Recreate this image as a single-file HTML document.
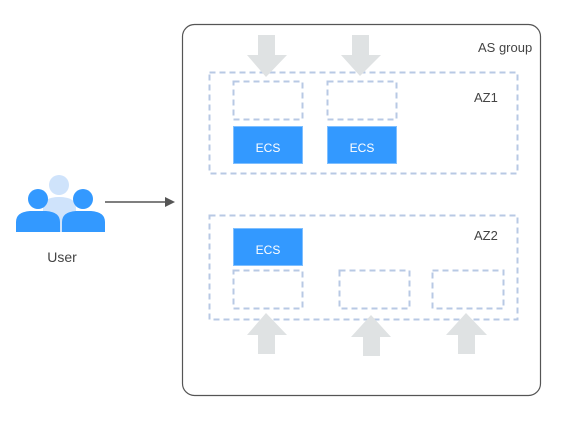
<!DOCTYPE html>
<html><head><meta charset="utf-8"><style>
body{margin:0;background:#fff;}
svg text{font-family:"Liberation Sans",sans-serif;}
</style></head><body>
<svg width="565" height="418" viewBox="0 0 565 418" xmlns="http://www.w3.org/2000/svg">
<rect x="182.5" y="24.5" width="358" height="371" rx="12" fill="#fff" stroke="#555" stroke-width="1.2"/>
<text x="478" y="52" font-size="13" fill="#444">AS group</text>
<g fill="none" stroke="#b8c9e4" stroke-width="2" stroke-dasharray="6,4">
<rect x="209.5" y="72.5" width="308" height="101"/>
<rect x="209.5" y="215.5" width="308" height="104"/>
<rect x="233.5" y="81.5" width="69" height="38"/>
<rect x="327.5" y="81.5" width="69" height="38"/>
<rect x="233.5" y="270.5" width="69" height="38"/>
<rect x="339.5" y="270.5" width="70" height="38"/>
<rect x="432.5" y="270.5" width="71" height="38"/>
</g>
<text x="474" y="102" font-size="13" fill="#444">AZ1</text>
<text x="474" y="240" font-size="13" fill="#444">AZ2</text>
<g fill="#3399ff" stroke="#7fbfff" stroke-width="1">
<rect x="233.5" y="126.5" width="69" height="37"/>
<rect x="327.5" y="126.5" width="69" height="37"/>
<rect x="233.5" y="228.5" width="69" height="37"/>
</g>
<g fill="#fff" font-size="12" text-anchor="middle">
<text x="268" y="152">ECS</text>
<text x="362" y="152">ECS</text>
<text x="268" y="254">ECS</text>
</g>
<g fill="#dfe2e3">
<polygon points="258,35 275,35 275,55 287,55 266,77 247,55 258,55"/>
<polygon points="352,35 369,35 369,55 381,55 360,76 341,55 352,55"/>
<polygon points="258,354 275,354 275,335 287,335 266,313 247,335 258,335"/>
<polygon points="363,356 380,356 380,337 391,337 371,315 351,337 363,337"/>
<polygon points="458,354 475,354 475,335 487,335 466,313 446,335 458,335"/>
</g>
<g>
<circle cx="59" cy="185" r="10" fill="#cfe3fb"/>
<path d="M43,232 L43,208 Q43,197 59,197 Q76,197 76,208 L76,232 Z" fill="#cfe3fb"/>
<circle cx="38" cy="199" r="10" fill="#3399ff"/>
<path d="M16,232 L16,222 Q16,212 30,211 L46,211 Q60,212 60,222 L60,232 Z" fill="#3399ff"/>
<circle cx="83" cy="199" r="10" fill="#3399ff"/>
<path d="M62,232 L62,222 Q62,212 76,211 L91,211 Q105,212 105,222 L105,232 Z" fill="#3399ff"/>
</g>
<line x1="105" y1="202" x2="166" y2="202" stroke="#555" stroke-width="1.5"/>
<polygon points="165,197 175,202 165,207" fill="#555"/>
<text x="62" y="262" font-size="14" fill="#444" text-anchor="middle">User</text>
</svg>
</body></html>
